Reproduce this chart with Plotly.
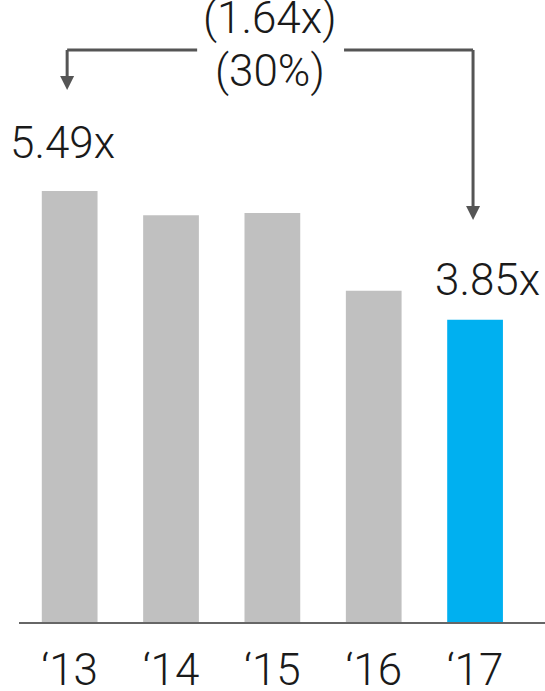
import plotly.graph_objects as go

categories = ["\u201813", "\u201814", "\u201815", "\u201816", "\u201817"]
values = [5.49, 5.18, 5.21, 4.22, 3.85]
bar_colors = ["#C0C0C0", "#C0C0C0", "#C0C0C0", "#C0C0C0", "#00B0F0"]
change_text = ["(1.64x)", "(30%)"]

x = list(range(len(categories)))
font_family = "Roboto Light, Roboto"
text_color = "#1a1a1a"
arrow_color = "#555555"

fig = go.Figure()
fig.add_trace(go.Bar(x=x, y=values, marker=dict(color=bar_colors, line=dict(width=0)),
                     width=0.55, hoverinfo="skip"))

ymax = 622 / 78.5
y_line = (622 - 50) / 78.5

# value labels
fig.add_annotation(x=x[0], y=values[0], text=f"{values[0]:.2f}x", showarrow=False,
                   yanchor="bottom", xshift=-7, yshift=20,
                   font=dict(family=font_family, size=44, color=text_color, weight=300))
fig.add_annotation(x=x[-1], y=values[-1], text=f"{values[-1]:.2f}x", showarrow=False,
                   yanchor="bottom", xshift=12, yshift=12,
                   font=dict(family=font_family, size=44, color=text_color, weight=300))

# change labels
fig.add_annotation(x=1.98, y=(622 - 18) / 78.5, text=change_text[0], showarrow=False,
                   yanchor="middle",
                   font=dict(family=font_family, size=44, color=text_color, weight=300))
fig.add_annotation(x=1.98, y=(622 - 71) / 78.5, text=change_text[1], showarrow=False,
                   yanchor="middle",
                   font=dict(family=font_family, size=44, color=text_color, weight=300))

# arrows
xl = x[0] - 0.025
xr = x[-1] - 0.02
px_x = 101.35
px_y = 78.5
xl_end = xl + (197 - 67) / px_x
xr_start = xr - (473 - 344) / px_x
left_tip = (622 - 90) / px_y
right_tip = (622 - 220) / px_y
head_h = 14 / px_y
head_w = 7 / px_x

line_style = dict(color=arrow_color, width=3)
fig.add_shape(type="line", x0=xl_end, x1=xl, y0=y_line, y1=y_line, line=line_style)
fig.add_shape(type="line", x0=xl, x1=xl, y0=y_line, y1=left_tip + head_h, line=line_style)
fig.add_shape(type="line", x0=xr_start, x1=xr, y0=y_line, y1=y_line, line=line_style)
fig.add_shape(type="line", x0=xr, x1=xr, y0=y_line, y1=right_tip + head_h, line=line_style)
for xc, tip in [(xl, left_tip), (xr, right_tip)]:
    fig.add_shape(type="path",
                  path=f"M {xc - head_w} {tip + head_h} L {xc + head_w} {tip + head_h} L {xc} {tip} Z",
                  fillcolor=arrow_color, line=dict(width=0))

fig.update_layout(
    width=545, height=691,
    margin=dict(l=19, r=0, t=0, b=69),
    paper_bgcolor="white", plot_bgcolor="white",
    showlegend=False,
    xaxis=dict(range=[-0.5, 4.69], tickvals=x, ticktext=categories, showgrid=False,
               zeroline=False, showline=True, linecolor="#666666", linewidth=2,
               ticks="", ticklabelstandoff=8, automargin=False,
               tickfont=dict(family=font_family, size=44, color=text_color, weight=300)),
    yaxis=dict(range=[0, ymax], visible=False, showgrid=False, zeroline=False,
               automargin=False),
)

fig.write_html("out.html")
